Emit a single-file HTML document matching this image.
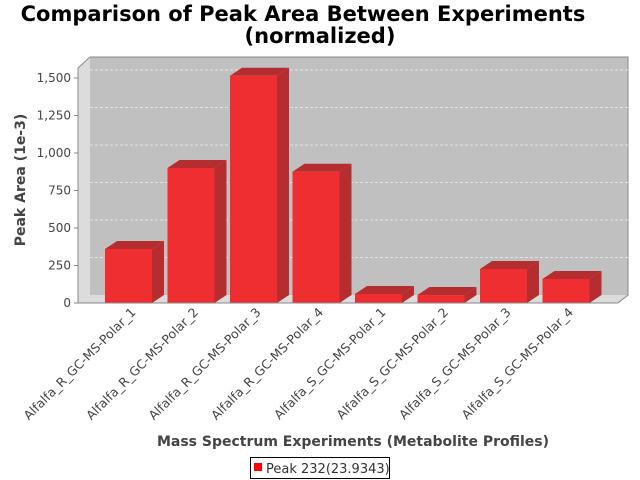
<!DOCTYPE html>
<html><head><meta charset="utf-8"><style>
body{margin:0;background:#fff;}
svg{display:block;font-family:"DejaVu Sans","Liberation Sans",sans-serif;}
</style></head><body>
<svg id="chart" width="640" height="480" viewBox="0 0 640 480">
<text x="303" y="21" text-anchor="middle" font-size="21" font-weight="bold" fill="#000">Comparison of Peak Area Between Experiments</text>
<text x="320" y="43" text-anchor="middle" font-size="21" font-weight="bold" fill="#000">(normalized)</text>
<polygon points="78,68 90,57 90,295 78,303" fill="#dcdcdc"/>
<polygon points="78,303 90,295 628,295 618,303" fill="#dcdcdc"/>
<rect x="90" y="57" width="538" height="238" fill="#c0c0c0"/>
<polyline points="78,68 90,57 628,57 628,295 618,303" fill="none" stroke="#888" stroke-width="1"/>
<g id="grid"></g>
<g id="bars"></g>
<line x1="78" y1="68" x2="78" y2="303" stroke="#888"/>
<line x1="78" y1="303" x2="618" y2="303" stroke="#888"/>
<g id="yticks"></g>
<g id="xlabels"></g>
<text transform="translate(25,180) rotate(-90)" text-anchor="middle" font-size="14" font-weight="bold" fill="#444">Peak Area (1e-3)</text>
<text x="353" y="446" text-anchor="middle" font-size="14" font-weight="bold" fill="#444">Mass Spectrum Experiments (Metabolite Profiles)</text>
<g>
<rect x="250.5" y="457.5" width="139" height="21" fill="#fff" stroke="#000"/>
<rect x="254" y="463" width="8" height="8" fill="#ff0000"/>
<text x="266" y="473" font-size="13" fill="#333">Peak 232(23.9343)</text>
</g>
</svg>
<script>
const categories=["Alfalfa_R_GC-MS-Polar_1","Alfalfa_R_GC-MS-Polar_2","Alfalfa_R_GC-MS-Polar_3","Alfalfa_R_GC-MS-Polar_4","Alfalfa_S_GC-MS-Polar_1","Alfalfa_S_GC-MS-Polar_2","Alfalfa_S_GC-MS-Polar_3","Alfalfa_S_GC-MS-Polar_4"];
const values=[360,900,1515,875,60,53,227,160];
const tickValues=[0,250,500,750,1000,1250,1500];
const tickLabels=["0","250","500","750","1,000","1,250","1,500"];
const NS="http://www.w3.org/2000/svg";
const DX=12,DY=-8;
function y(v){return 303-v*0.15;}
function xc(i){return 128.5+i*62.5;}
function mk(tag,attrs,parent){const e=document.createElementNS(NS,tag);for(const k in attrs)e.setAttribute(k,attrs[k]);parent.appendChild(e);return e;}
const grid=document.getElementById('grid'),yt=document.getElementById('yticks'),bars=document.getElementById('bars'),xl=document.getElementById('xlabels');
tickValues.forEach((v,i)=>{
 if(v>0){const g=mk('line',{x1:90,x2:628,y1:y(v)+DY,y2:y(v)+DY,stroke:'#eee','stroke-dasharray':'3,2','stroke-width':0.8},grid);
 
 }
 const t=mk('line',{x1:74,x2:78,y1:y(v),y2:y(v),stroke:'#888'},yt);
 
 
 const l=mk('text',{x:71,y:y(v)+4,'text-anchor':'end','font-size':12,fill:'#444'},yt);
 l.textContent=tickLabels[i];
 
 
});
values.forEach((v,i)=>{
 const x0=xc(i)-23.5,x1=xc(i)+23.5,yt0=y(v),yb=303;
 const g=mk('g',{},bars);
 
 
 mk('polygon',{points:`${x0},${yt0} ${x0+DX},${yt0+DY} ${x1+DX},${yt0+DY} ${x1},${yt0}`,fill:'#b52d2f'},g);
 mk('polygon',{points:`${x1},${yt0} ${x1+DX},${yt0+DY} ${x1+DX},${yb+DY} ${x1},${yb}`,fill:'#b52d2f'},g);
 mk('rect',{x:x0,y:yt0,width:47,height:yb-yt0,fill:'#ee2e31'},g);
 const t=mk('text',{'text-anchor':'end','font-size':12.5,fill:'#444',transform:`translate(${xc(i)+8},${313}) rotate(-45)`},xl);
 t.textContent=categories[i];
 
 
});
</script>
</body></html>
